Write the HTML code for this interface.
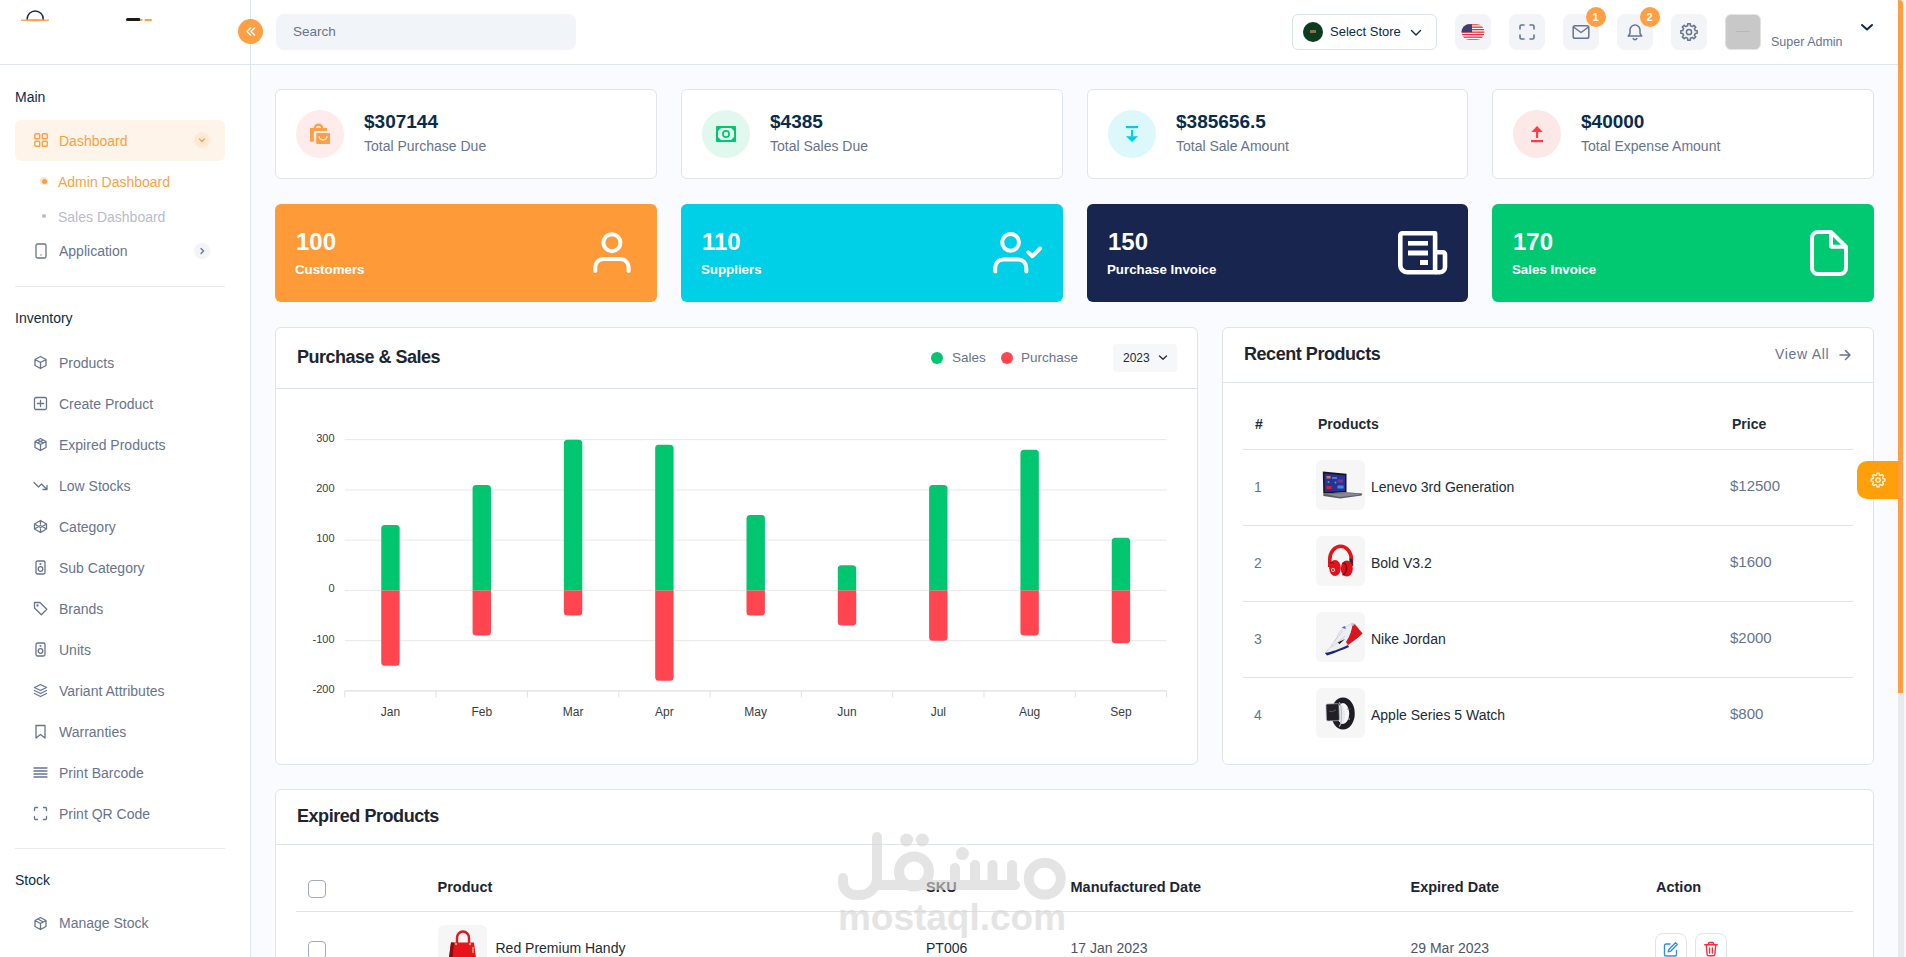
<!DOCTYPE html>
<html>
<head>
<meta charset="utf-8">
<style>
*{box-sizing:border-box;margin:0;padding:0}
html,body{width:1906px;height:957px;overflow:hidden}
body{font-family:"Liberation Sans",sans-serif;background:#fafbfe;color:#67748e;position:relative;font-size:14px}
.abs{position:absolute}
svg{display:block}
/* sidebar */
#sidebar{position:absolute;left:0;top:0;width:251px;height:957px;background:#fff;border-right:1px solid #dfe5ec}
#header{position:absolute;left:251px;top:0;width:1647px;height:65px;background:#fff;border-bottom:1px solid #dfe5ec}
.sb-title{position:absolute;left:15px;font-size:14px;color:#092c4c;line-height:16px}
.sb-item{position:absolute;left:15px;width:210px;height:41px}
.sb-item .ic{position:absolute;left:18px;top:13px;width:15px;height:15px}
.sb-item .tx{position:absolute;left:44px;top:12px;font-size:14px;line-height:16px;color:#646b72;white-space:nowrap}
.sbt{font-size:14px;line-height:16px;color:#092c4c;white-space:nowrap}
.stx{font-size:14px;line-height:16px;color:#67748e;white-space:nowrap}
.card{background:#fff;border:1px solid #dfe4ea;border-radius:6px}
.tx{white-space:nowrap}
.divider{position:absolute;left:15px;width:210px;height:1px;background:#e8ebef}
</style>
</head>
<body>
<div id="sidebar">
<svg class="abs" style="left:20px;top:10px" width="140" height="14" viewBox="0 0 140 14">
<path d="M7.2 10V9a8 8 0 0 1 16 0V10" fill="none" stroke="#1b2850" stroke-width="1.5"/>
<path d="M1 10.2Q15 8.6 29 10.2Q15 11.6 1 10.2z" fill="#fe9f43" stroke="#fe9f43" stroke-width="0.8"/>
<rect x="106" y="8" width="14.5" height="3" rx="1.5" fill="#1b1b1b"/>
<rect x="120" y="9" width="2.5" height="2" fill="#fe9f43"/>
<rect x="124.5" y="9" width="7.5" height="2" rx="1" fill="#fe9f43"/>
</svg>
<div class="abs" style="left:0;top:64px;width:250px;height:1px;background:#dfe5ec"></div>
<div class="abs sbt" style="left:15px;top:89px">Main</div>
<div class="abs" style="left:15px;top:120px;width:210px;height:41px;background:#fff4e9;border-radius:6px"></div>
<svg class="abs" style="left:34px;top:133px" width="14" height="14" viewBox="0 0 14 14"><g fill="none" stroke="#fe9f43" stroke-width="1.4"><rect x="0.8" y="0.8" width="4.9" height="4.9" rx="0.8"/><rect x="8.3" y="0.8" width="4.9" height="4.9" rx="0.8"/><rect x="0.8" y="8.3" width="4.9" height="4.9" rx="0.8"/><rect x="8.3" y="8.3" width="4.9" height="4.9" rx="0.8"/></g></svg>
<div class="abs stx" style="left:59px;top:133px;color:#fe9f43">Dashboard</div>
<div class="abs" style="left:194px;top:132px;width:16px;height:16px;border-radius:50%;background:#fde9d5"></div><svg class="abs" style="left:197px;top:135px" width="10" height="10" viewBox="0 0 10 10"><path d="M2.5 4l2.5 2.5l2.5-2.5" fill="none" stroke="#fe9f43" stroke-width="1.3" stroke-linecap="round"/></svg>
<div class="abs" style="left:40px;top:177px;width:8px;height:8px;border-radius:50%;background:#fde3c9"></div><div class="abs" style="left:41.5px;top:178.5px;width:5px;height:5px;border-radius:50%;background:#fe9f43"></div>
<div class="abs stx" style="left:58px;top:174px;color:#fe9f43">Admin Dashboard</div>
<div class="abs" style="left:42px;top:214px;width:4px;height:4px;border-radius:50%;background:#b8bfca"></div>
<div class="abs stx" style="left:58px;top:209px;color:#b8bcc9">Sales Dashboard</div>
<svg class="abs" style="left:34px;top:243px" width="14" height="16" viewBox="0 0 14 16"><rect x="2" y="1" width="10" height="14" rx="1.5" fill="none" stroke="#67748e" stroke-width="1.3"/><circle cx="7" cy="12" r="0.7" fill="#67748e"/></svg>
<div class="abs stx" style="left:59px;top:243px">Application</div>
<div class="abs" style="left:194px;top:243px;width:16px;height:16px;border-radius:50%;background:#f3f4f7"></div><svg class="abs" style="left:197px;top:246px" width="10" height="10" viewBox="0 0 10 10"><path d="M4 2.5l2.5 2.5l-2.5 2.5" fill="none" stroke="#67748e" stroke-width="1.3" stroke-linecap="round"/></svg>
<div class="divider" style="top:286px"></div>
<div class="abs sbt" style="left:15px;top:310px">Inventory</div>
<svg class="abs" style="left:33px;top:355px" width="15" height="15" viewBox="0 0 15 15"><g fill="none" stroke="#67748e" stroke-width="1.3" stroke-linecap="round" stroke-linejoin="round"><path d="M7.5 1.5l5.5 3v6l-5.5 3l-5.5-3v-6z M2 4.5l5.5 3l5.5-3 M7.5 7.5v6"/></g></svg><div class="abs stx" style="left:59px;top:355px">Products</div>
<svg class="abs" style="left:33px;top:396px" width="15" height="15" viewBox="0 0 15 15"><g fill="none" stroke="#67748e" stroke-width="1.3" stroke-linecap="round" stroke-linejoin="round"><rect x="1.5" y="1.5" width="12" height="12" rx="1.5"/><path d="M7.5 4.5v6M4.5 7.5h6"/></g></svg><div class="abs stx" style="left:59px;top:396px">Create Product</div>
<svg class="abs" style="left:33px;top:437px" width="15" height="15" viewBox="0 0 15 15"><g fill="none" stroke="#67748e" stroke-width="1.3" stroke-linecap="round" stroke-linejoin="round"><path d="M7.5 1.5l5.5 3v6l-5.5 3l-5.5-3v-6z M2 4.5l5.5 3l5.5-3 M7.5 7.5v6 M4.8 3l5.5 3 M10.2 3l-5.5 3"/></g></svg><div class="abs stx" style="left:59px;top:437px">Expired Products</div>
<svg class="abs" style="left:33px;top:478px" width="15" height="15" viewBox="0 0 15 15"><g fill="none" stroke="#67748e" stroke-width="1.3" stroke-linecap="round" stroke-linejoin="round"><path d="M1 4.5l4.5 4.5l3-3l5.5 5.5 M10 11.5h4v-4"/></g></svg><div class="abs stx" style="left:59px;top:478px">Low Stocks</div>
<svg class="abs" style="left:33px;top:519px" width="15" height="15" viewBox="0 0 15 15"><g fill="none" stroke="#67748e" stroke-width="1.3" stroke-linecap="round" stroke-linejoin="round"><path d="M7.5 1.5l6 3.5v5l-6 3.5l-6-3.5v-5z M1.5 5l6 3.5l6-3.5 M1.5 10l6-3.5l6 3.5 M7.5 1.5v3.5 M7.5 10v3.5"/></g></svg><div class="abs stx" style="left:59px;top:519px">Category</div>
<svg class="abs" style="left:33px;top:560px" width="15" height="15" viewBox="0 0 15 15"><g fill="none" stroke="#67748e" stroke-width="1.3" stroke-linecap="round" stroke-linejoin="round"><rect x="3" y="1" width="9" height="13" rx="1.5"/><circle cx="7.5" cy="9" r="2.3"/><circle cx="7.5" cy="4" r="0.4"/></g></svg><div class="abs stx" style="left:59px;top:560px">Sub Category</div>
<svg class="abs" style="left:33px;top:601px" width="15" height="15" viewBox="0 0 15 15"><g fill="none" stroke="#67748e" stroke-width="1.3" stroke-linecap="round" stroke-linejoin="round"><path d="M1.5 1.5h5.5l6.8 6.8l-5.5 5.5l-6.8-6.8z"/><circle cx="4.5" cy="4.5" r="0.5"/></g></svg><div class="abs stx" style="left:59px;top:601px">Brands</div>
<svg class="abs" style="left:33px;top:642px" width="15" height="15" viewBox="0 0 15 15"><g fill="none" stroke="#67748e" stroke-width="1.3" stroke-linecap="round" stroke-linejoin="round"><rect x="3" y="1" width="9" height="13" rx="1.5"/><circle cx="7.5" cy="9" r="2.3"/><circle cx="7.5" cy="4" r="0.4"/></g></svg><div class="abs stx" style="left:59px;top:642px">Units</div>
<svg class="abs" style="left:33px;top:683px" width="15" height="15" viewBox="0 0 15 15"><g fill="none" stroke="#67748e" stroke-width="1.3" stroke-linecap="round" stroke-linejoin="round"><path d="M7.5 1.5l6 3l-6 3l-6-3z M1.5 7.5l6 3l6-3 M1.5 10.5l6 3l6-3"/></g></svg><div class="abs stx" style="left:59px;top:683px">Variant Attributes</div>
<svg class="abs" style="left:33px;top:724px" width="15" height="15" viewBox="0 0 15 15"><g fill="none" stroke="#67748e" stroke-width="1.3" stroke-linecap="round" stroke-linejoin="round"><path d="M3 1.5h9v12.5l-4.5-3.5l-4.5 3.5z"/></g></svg><div class="abs stx" style="left:59px;top:724px">Warranties</div>
<svg class="abs" style="left:33px;top:765px" width="15" height="15" viewBox="0 0 15 15"><g fill="none" stroke="#67748e" stroke-width="1.3" stroke-linecap="round" stroke-linejoin="round"><path d="M1 3h13M1 6h13M1 9h13M1 12h13"/></g></svg><div class="abs stx" style="left:59px;top:765px">Print Barcode</div>
<svg class="abs" style="left:33px;top:806px" width="15" height="15" viewBox="0 0 15 15"><g fill="none" stroke="#67748e" stroke-width="1.3" stroke-linecap="round" stroke-linejoin="round"><path d="M1.5 4.5v-2a1 1 0 0 1 1-1h2 M10.5 1.5h2a1 1 0 0 1 1 1v2 M13.5 10.5v2a1 1 0 0 1-1 1h-2 M4.5 13.5h-2a1 1 0 0 1-1-1v-2"/></g></svg><div class="abs stx" style="left:59px;top:806px">Print QR Code</div>
<div class="divider" style="top:848px"></div>
<div class="abs sbt" style="left:15px;top:872px">Stock</div>
<svg class="abs" style="left:33px;top:916px" width="15" height="15" viewBox="0 0 15 15"><g fill="none" stroke="#67748e" stroke-width="1.3" stroke-linecap="round" stroke-linejoin="round"><path d="M7.5 1.5l5.5 3v6l-5.5 3l-5.5-3v-6z M2 4.5l5.5 3l5.5-3 M7.5 7.5v6 M4.8 3l5.5 3"/></g></svg><div class="abs stx" style="left:59px;top:915px">Manage Stock</div>
</div>
<div id="header">
</div>
<div class="abs" style="left:238px;top:19px;width:25px;height:25px;border-radius:50%;background:#fe9f43"></div>
<svg class="abs" style="left:243px;top:24px" width="15" height="15" viewBox="0 0 15 15"><path d="M7.5 4l-3.5 3.5l3.5 3.5 M11.5 4l-3.5 3.5l3.5 3.5" fill="none" stroke="#fff" stroke-width="1.5" stroke-linecap="round" stroke-linejoin="round"/></svg>
<div class="abs" style="left:276px;top:14px;width:300px;height:36px;border-radius:8px;background:#f1f4f8"></div><div class="abs" style="left:293px;top:24px;font-size:13.5px;line-height:16px;color:#67748e">Search</div>
<div class="abs" style="left:1292px;top:14px;width:145px;height:36px;border:1px solid #dbe0e6;border-radius:6px;background:#fff"></div>
<div class="abs" style="left:1303px;top:21.5px;width:20px;height:20px;border-radius:50%;background:#0d3b1e"></div>
<div class="abs" style="left:1310px;top:29.5px;width:6px;height:3px;background:#b98a5a;opacity:.7"></div>
<div class="abs" style="left:1330px;top:24px;font-size:13px;line-height:16px;color:#092c4c">Select Store</div>
<svg class="abs" style="left:1409px;top:28px" width="14" height="10" viewBox="0 0 14 10"><path d="M2.5 2.5l4.5 4.5l4.5-4.5" fill="none" stroke="#092c4c" stroke-width="1.4" stroke-linecap="round" stroke-linejoin="round"/></svg>
<div class="abs" style="left:1455px;top:14px;width:36px;height:36px;border-radius:8px;background:#f2f4f8"></div>
<div class="abs" style="left:1509px;top:14px;width:36px;height:36px;border-radius:8px;background:#f2f4f8"></div>
<div class="abs" style="left:1563px;top:14px;width:36px;height:36px;border-radius:8px;background:#f2f4f8"></div>
<div class="abs" style="left:1617px;top:14px;width:36px;height:36px;border-radius:8px;background:#f2f4f8"></div>
<div class="abs" style="left:1671px;top:14px;width:36px;height:36px;border-radius:8px;background:#f2f4f8"></div>
<svg class="abs" style="left:1461px;top:24px" width="24" height="16" viewBox="0 0 24 16"><defs><clipPath id="fc"><rect x="0.5" y="0.3" width="23" height="15.4" rx="7.7"/></clipPath></defs><g clip-path="url(#fc)"><rect width="24" height="16" fill="#fff"/>
<rect y="0" width="24" height="1.3" fill="#e0313a"/><rect y="2.5" width="24" height="1.3" fill="#e0313a"/><rect y="5" width="24" height="1.3" fill="#e0313a"/><rect y="7.5" width="24" height="1.3" fill="#e0313a"/><rect y="10" width="24" height="1.3" fill="#e0313a"/><rect y="12.5" width="24" height="1.3" fill="#e0313a"/><rect y="15" width="24" height="1.3" fill="#e0313a"/>
<rect x="0" y="0" width="11" height="8.2" fill="#3c3f78"/></g></svg>
<svg class="abs" style="left:1519px;top:24px" width="16" height="16" viewBox="0 0 16 16"><path d="M1 5V2.5A1.5 1.5 0 0 1 2.5 1H5 M11 1h2.5A1.5 1.5 0 0 1 15 2.5V5 M15 11v2.5a1.5 1.5 0 0 1-1.5 1.5H11 M5 15H2.5A1.5 1.5 0 0 1 1 13.5V11" fill="none" stroke="#67748e" stroke-width="1.6" stroke-linecap="round"/></svg>
<svg class="abs" style="left:1572px;top:24px" width="18" height="16" viewBox="0 0 18 16"><rect x="1.2" y="1.7" width="15.6" height="12.6" rx="1.8" fill="none" stroke="#67748e" stroke-width="1.5"/><path d="M1.5 3l7.5 5.5l7.5-5.5" fill="none" stroke="#67748e" stroke-width="1.5" stroke-linejoin="round"/></svg>
<svg class="abs" style="left:1626px;top:23px" width="18" height="18" viewBox="0 0 18 18"><path d="M9 2a5 5 0 0 0-5 5v3.5l-1.8 2.6h13.6L14 10.5V7a5 5 0 0 0-5-5z" fill="none" stroke="#67748e" stroke-width="1.5" stroke-linejoin="round"/><path d="M7.2 15.5a1.9 1.9 0 0 0 3.6 0" fill="none" stroke="#67748e" stroke-width="1.5" stroke-linecap="round"/></svg>
<svg class="abs" style="left:1680px;top:23px" width="18" height="18" viewBox="0 0 18 18"><path d="M7.60 2.75 L7.68 0.81 L10.32 0.81 L10.40 2.75 L12.43 3.60 L13.86 2.27 L15.73 4.14 L14.40 5.57 L15.25 7.60 L17.19 7.68 L17.19 10.32 L15.25 10.40 L14.40 12.43 L15.73 13.86 L13.86 15.73 L12.43 14.40 L10.40 15.25 L10.32 17.19 L7.68 17.19 L7.60 15.25 L5.57 14.40 L4.14 15.73 L2.27 13.86 L3.60 12.43 L2.75 10.40 L0.81 10.32 L0.81 7.68 L2.75 7.60 L3.60 5.57 L2.27 4.14 L4.14 2.27 L5.57 3.60Z" fill="none" stroke="#67748e" stroke-width="1.5" stroke-linejoin="round"/><circle cx="9" cy="9" r="2.6" fill="none" stroke="#67748e" stroke-width="1.5"/></svg>
<div class="abs" style="left:1585.5px;top:7px;width:20px;height:20px;border-radius:50%;background:#fe9f43;color:#fff;font-size:11px;font-weight:700;line-height:20px;text-align:center">1</div>
<div class="abs" style="left:1639.5px;top:7px;width:20px;height:20px;border-radius:50%;background:#fe9f43;color:#fff;font-size:11px;font-weight:700;line-height:20px;text-align:center">2</div>
<div class="abs" style="left:1725px;top:14px;width:36px;height:36px;border-radius:6px;background:#c8c8c8;border:1px solid #e3e3e3"></div><div class="abs" style="left:1736px;top:31px;width:13px;height:1px;background:#a8acb8;opacity:.6"></div>
<div class="abs" style="left:1771px;top:34px;font-size:12.5px;line-height:16px;color:#67748e;white-space:nowrap">Super Admin</div>
<svg class="abs" style="left:1859px;top:22px" width="16" height="12" viewBox="0 0 16 12"><path d="M3 3l5 4.5l5-4.5" fill="none" stroke="#092c4c" stroke-width="2" stroke-linecap="round" stroke-linejoin="round"/></svg>
<div id="main">
<!--M1-->
<div class="abs card" style="left:275px;top:89px;width:382px;height:90px"></div>
<div class="abs" style="left:296px;top:110px;width:48px;height:48px;border-radius:50%;background:#fdeceb"></div>
<svg class="abs" style="left:296px;top:110px" width="48" height="48" viewBox="0 0 48 48"><path d="M18.7 18.5a3.8 3.8 0 0 1 7.6 0" fill="none" stroke="#fe9f43" stroke-width="2.2"/><path d="M14 18h17v3h-13.2v10.7h-3.8z" fill="#fe9f43"/><rect x="20.2" y="23" width="13.8" height="11" rx="1" fill="#fe9f43"/><path d="M23 26a4 4 0 0 0 8 0" fill="none" stroke="#fdeceb" stroke-width="1.3"/></svg>
<div class="abs tx" style="left:364px;top:109.8px;font-size:19px;line-height:23px;color:#092c4c;font-weight:700;">$307144</div>
<div class="abs tx" style="left:364px;top:138.1px;font-size:14px;line-height:17px;color:#67748e;font-weight:400;">Total Purchase Due</div>
<div class="abs card" style="left:681px;top:89px;width:382px;height:90px"></div>
<div class="abs" style="left:702px;top:110px;width:48px;height:48px;border-radius:50%;background:#e0f8ee"></div>
<svg class="abs" style="left:702px;top:110px" width="48" height="48" viewBox="0 0 48 48"><rect x="14" y="16" width="20" height="16" rx="0.8" fill="#02c76f"/><path d="M19 18h10l3 3v6l-3 3h-10l-3-3v-6z" fill="#e0f8ee"/><circle cx="24" cy="24" r="3.1" fill="none" stroke="#02c76f" stroke-width="1.7"/></svg>
<div class="abs tx" style="left:770px;top:109.8px;font-size:19px;line-height:23px;color:#092c4c;font-weight:700;">$4385</div>
<div class="abs tx" style="left:770px;top:138.1px;font-size:14px;line-height:17px;color:#67748e;font-weight:400;">Total Sales Due</div>
<div class="abs card" style="left:1087px;top:89px;width:381px;height:90px"></div>
<div class="abs" style="left:1108px;top:110px;width:48px;height:48px;border-radius:50%;background:#dcf8fb"></div>
<svg class="abs" style="left:1108px;top:110px" width="48" height="48" viewBox="0 0 48 48"><rect x="17.9" y="16" width="12.2" height="2.2" fill="#00cfe8"/><rect x="23" y="20" width="2" height="6.5" fill="#00cfe8"/><path d="M17.9 26.3h12.2l-6.1 5.8z" fill="#00cfe8"/></svg>
<div class="abs tx" style="left:1176px;top:109.8px;font-size:19px;line-height:23px;color:#092c4c;font-weight:700;">$385656.5</div>
<div class="abs tx" style="left:1176px;top:138.1px;font-size:14px;line-height:17px;color:#67748e;font-weight:400;">Total Sale Amount</div>
<div class="abs card" style="left:1492px;top:89px;width:382px;height:90px"></div>
<div class="abs" style="left:1513px;top:110px;width:48px;height:48px;border-radius:50%;background:#fde8e8"></div>
<svg class="abs" style="left:1513px;top:110px" width="48" height="48" viewBox="0 0 48 48"><path d="M18.3 22h11.5l-5.75-6z" fill="#ff3b45"/><rect x="23" y="21.5" width="2.2" height="6.5" fill="#ff3b45"/><rect x="18" y="30" width="12" height="2.2" fill="#ff3b45"/></svg>
<div class="abs tx" style="left:1581px;top:109.8px;font-size:19px;line-height:23px;color:#092c4c;font-weight:700;">$40000</div>
<div class="abs tx" style="left:1581px;top:138.1px;font-size:14px;line-height:17px;color:#67748e;font-weight:400;">Total Expense Amount</div>
<div class="abs" style="left:275px;top:204px;width:382px;height:98px;border-radius:6px;background:#fe9b38"></div>
<div class="abs tx" style="left:296px;top:227.2px;font-size:24px;line-height:29px;color:#fff;font-weight:700;">100</div>
<div class="abs tx" style="left:295px;top:261.5px;font-size:13.3px;line-height:16px;color:#fff;font-weight:700;">Customers</div>
<svg class="abs" style="left:591px;top:229px" width="44" height="48" viewBox="0 0 44 48"><circle cx="20.9" cy="13.7" r="8.5" fill="none" stroke="#fff" stroke-width="4"/><path d="M4.3 42v-4a8 8 0 0 1 8-8h17.3a8 8 0 0 1 8 8v4" fill="none" stroke="#fff" stroke-width="4" stroke-linecap="round"/></svg>
<div class="abs" style="left:681px;top:204px;width:382px;height:98px;border-radius:6px;background:#00cfe8"></div>
<div class="abs tx" style="left:702px;top:227.2px;font-size:24px;line-height:29px;color:#fff;font-weight:700;">110</div>
<div class="abs tx" style="left:701px;top:261.5px;font-size:13.3px;line-height:16px;color:#fff;font-weight:700;">Suppliers</div>
<svg class="abs" style="left:991px;top:229px" width="54" height="48" viewBox="0 0 54 48"><circle cx="19.6" cy="13.3" r="8.4" fill="none" stroke="#fff" stroke-width="4"/><path d="M4.2 42.4v-4a8 8 0 0 1 8-8h15.1a8 8 0 0 1 8 8v4" fill="none" stroke="#fff" stroke-width="4" stroke-linecap="round"/><path d="M37.3 23.3l4.2 3.9l7.6-7.8" fill="none" stroke="#fff" stroke-width="4" stroke-linecap="round" stroke-linejoin="round"/></svg>
<div class="abs" style="left:1087px;top:204px;width:381px;height:98px;border-radius:6px;background:#17254f"></div>
<div class="abs tx" style="left:1108px;top:227.2px;font-size:24px;line-height:29px;color:#fff;font-weight:700;">150</div>
<div class="abs tx" style="left:1107px;top:261.5px;font-size:13.3px;line-height:16px;color:#fff;font-weight:700;">Purchase Invoice</div>
<svg class="abs" style="left:1390px;top:225px" width="64" height="56" viewBox="0 0 64 56"><path d="M12.3 8.3H45.1V47.2H17a6.7 6.7 0 0 1-6.7-6.7V10.3a2 2 0 0 1 2-2z" fill="none" stroke="#fff" stroke-width="4.6" stroke-linejoin="round"/><path d="M45.1 27.3H53a2 2 0 0 1 2 2V42a5.2 5.2 0 0 1-5.2 5.2H45" fill="none" stroke="#fff" stroke-width="4.6" stroke-linejoin="round"/><rect x="18" y="16" width="20" height="4.6" fill="#fff"/><rect x="18" y="25.5" width="20" height="5" fill="#fff"/><rect x="30" y="35" width="8" height="5" fill="#fff"/></svg>
<div class="abs" style="left:1492px;top:204px;width:382px;height:98px;border-radius:6px;background:#00c972"></div>
<div class="abs tx" style="left:1513px;top:227.2px;font-size:24px;line-height:29px;color:#fff;font-weight:700;">170</div>
<div class="abs tx" style="left:1512px;top:261.5px;font-size:13.3px;line-height:16px;color:#fff;font-weight:700;">Sales Invoice</div>
<svg class="abs" style="left:1806px;top:228px" width="46" height="52" viewBox="0 0 46 52"><path d="M25 4H12a6 6 0 0 0-6 6V40a6 6 0 0 0 6 6H34a6 6 0 0 0 6-6V18.7Z M25 4V17.7a1 1 0 0 0 1 1H40" fill="none" stroke="#fff" stroke-width="4" stroke-linejoin="round"/></svg>
<!--/M1-->
<!--EX-->
<div class="abs card" style="left:275px;top:789px;width:1599px;height:220px"></div>
<div class="abs" style="left:276px;top:844px;width:1597px;height:1px;background:#dfe4ea"></div>
<div class="abs tx" style="left:297px;top:805.1px;font-size:18px;line-height:22px;color:#1d2530;font-weight:700;letter-spacing:-0.45px">Expired Products</div>
<div class="abs" style="left:308px;top:880px;width:18px;height:18px;border:1px solid #a3abb8;border-radius:4px;background:#fff"></div>
<div class="abs tx" style="left:437.5px;top:878.5px;font-size:14.5px;line-height:17px;color:#1d2530;font-weight:700;">Product</div>
<div class="abs tx" style="left:926px;top:878.5px;font-size:14.5px;line-height:17px;color:#1d2530;font-weight:700;">SKU</div>
<div class="abs tx" style="left:1070.5px;top:878.5px;font-size:14.5px;line-height:17px;color:#1d2530;font-weight:700;">Manufactured Date</div>
<div class="abs tx" style="left:1410.5px;top:878.5px;font-size:14.5px;line-height:17px;color:#1d2530;font-weight:700;">Expired Date</div>
<div class="abs tx" style="left:1656px;top:878.5px;font-size:14.5px;line-height:17px;color:#1d2530;font-weight:700;">Action</div>
<div class="abs" style="left:296px;top:911px;width:1557px;height:1px;background:#dfe4ea"></div>
<div class="abs" style="left:308px;top:941px;width:18px;height:18px;border:1px solid #a3abb8;border-radius:4px;background:#fff"></div>
<div class="abs" style="left:438px;top:925px;width:49px;height:50px;border-radius:6px;background:#f6f6f7"></div>
<svg class="abs" style="left:438px;top:925px" width="49" height="40" viewBox="0 0 49 40"><path d="M19 18v-5a6 6.5 0 0 1 12 0v5" fill="none" stroke="#e01820" stroke-width="2.4"/><path d="M13 17.5h23l3 22.5h-29z" fill="#e8141c"/><path d="M13 17.5h3l-2 22.5h-4z" fill="#8a0c10"/><circle cx="18" cy="19" r="1.2" fill="#c9a070"/><circle cx="32" cy="19" r="1.2" fill="#c9a070"/><path d="M35 22v6" stroke="#c9a070" stroke-width="1.6"/></svg>
<div class="abs tx" style="left:495.5px;top:939.5px;font-size:14px;line-height:17px;color:#212b36;font-weight:400;">Red Premium Handy</div>
<div class="abs tx" style="left:926px;top:939.5px;font-size:14px;line-height:17px;color:#212b36;font-weight:400;">PT006</div>
<div class="abs tx" style="left:1070.5px;top:939.5px;font-size:14px;line-height:17px;color:#4a5566;font-weight:400;">17 Jan 2023</div>
<div class="abs tx" style="left:1410.5px;top:939.5px;font-size:14px;line-height:17px;color:#4a5566;font-weight:400;">29 Mar 2023</div>
<div class="abs" style="left:1655px;top:933px;width:32px;height:32px;border:1px solid #e0e4e9;border-radius:8px;background:#fff"></div>
<div class="abs" style="left:1695px;top:933px;width:32px;height:32px;border:1px solid #e0e4e9;border-radius:8px;background:#fff"></div>
<svg class="abs" style="left:1663px;top:941px" width="16" height="16" viewBox="0 0 16 16"><path d="M7 3H3a1.5 1.5 0 0 0-1.5 1.5v9A1.5 1.5 0 0 0 3 15h9a1.5 1.5 0 0 0 1.5-1.5V9.5" fill="none" stroke="#3a8bdc" stroke-width="1.4" stroke-linecap="round"/><path d="M12.5 1.8l1.8 1.8l-6.5 6.5l-2.6 0.8l0.8-2.6z" fill="none" stroke="#3a8bdc" stroke-width="1.4" stroke-linejoin="round"/></svg>
<svg class="abs" style="left:1703px;top:941px" width="16" height="16" viewBox="0 0 16 16"><path d="M1.8 3.8h12.4 M5.5 3.5v-1a1 1 0 0 1 1-1h3a1 1 0 0 1 1 1v1 M3.3 4l0.8 9.5a1.5 1.5 0 0 0 1.5 1.3h4.8a1.5 1.5 0 0 0 1.5-1.3l0.8-9.5 M6.6 7v5 M9.4 7v5" fill="none" stroke="#ff2a35" stroke-width="1.4" stroke-linecap="round" stroke-linejoin="round"/></svg>
<svg class="abs" style="left:830px;top:826px;opacity:0.62" width="245" height="116" viewBox="830 826 245 116">
<g fill="none" stroke="#d5d5d5" stroke-width="10" stroke-linecap="round" stroke-linejoin="round">
<path d="M877 837V878a17 17 0 0 1-17 17h-4a13 13 0 0 1-13-13v-4"/>
<circle cx="914" cy="871.5" r="15"/>
<path d="M877 885H1015"/>
<path d="M955 868V880 M975 865V880 M992.5 865V880 M1012 865V880"/>
<circle cx="1044.8" cy="878.7" r="16"/>
</g>
<g fill="#d5d5d5"><circle cx="906.6" cy="840" r="6.5"/><circle cx="922.4" cy="840" r="6.5"/><circle cx="962.4" cy="853.6" r="6.5"/></g>
<text x="952" y="930" text-anchor="middle" font-family="Liberation Sans" font-weight="700" font-size="37" fill="#d5d5d5">mostaql.com</text>
</svg>
<!--/EX-->
<!--RP-->
<div class="abs card" style="left:1222px;top:327px;width:652px;height:438px"></div>
<div class="abs" style="left:1223px;top:382px;width:650px;height:1px;background:#dfe4ea"></div>
<div class="abs tx" style="left:1244px;top:342.6px;font-size:18px;line-height:22px;color:#1d2530;font-weight:700;letter-spacing:-0.45px">Recent Products</div>
<div class="abs tx" style="left:1775px;top:345.5px;font-size:14px;line-height:17px;color:#67748e;font-weight:400;letter-spacing:0.7px">View All</div>
<svg class="abs" style="left:1838px;top:348px" width="14" height="14" viewBox="0 0 14 14"><path d="M2 7h10 M7.5 2.5l4.5 4.5l-4.5 4.5" fill="none" stroke="#67748e" stroke-width="1.5" stroke-linecap="round" stroke-linejoin="round"/></svg>
<div class="abs tx" style="left:1255px;top:416.3px;font-size:14px;line-height:17px;color:#212b36;font-weight:700;">#</div>
<div class="abs tx" style="left:1318px;top:416.3px;font-size:14px;line-height:17px;color:#212b36;font-weight:700;">Products</div>
<div class="abs tx" style="left:1732px;top:416.4px;font-size:14px;line-height:17px;color:#212b36;font-weight:700;">Price</div>
<div class="abs" style="left:1243px;top:449px;width:610px;height:1px;background:#dfe4ea"></div>
<div class="abs tx" style="left:1254px;top:478.5px;font-size:14px;line-height:17px;color:#67748e;font-weight:400;">1</div>
<div class="abs" style="left:1316px;top:460px;width:49px;height:50px;border-radius:6px;background:#f6f6f7"></div>
<svg class="abs" style="left:1316px;top:460px" width="49" height="50" viewBox="0 0 49 50"><path d="M6.8 11.5l23.7 2.2v18.6l-23.2 1.2z" fill="#17171c"/><path d="M8.4 13.4l20.6 2v15.6l-20.1 1z" fill="#2a2f9c"/><rect x="10.5" y="16" width="4" height="2.5" fill="#d87a3a"/><rect x="16" y="17" width="5" height="2" fill="#4a7ad0"/><circle cx="12.5" cy="22" r="1" fill="#2ec85a"/><circle cx="19.5" cy="22.5" r="1" fill="#2ec85a"/><rect x="21.5" y="19.5" width="5.5" height="3" fill="#6a3a90"/><rect x="10.5" y="26" width="5" height="3" fill="#d82020"/><rect x="21.5" y="25.5" width="6" height="3" fill="#3a90d8"/><path d="M7.3 33.5l23.2-1.3l15.8 1.2l-0.6 2.2l-21.5 2.8l-16.8-2.4z" fill="#5a5d66"/><path d="M9.5 34l21-1.1l13 0.8l-0.5 1.2l-19.5 2.2z" fill="#878a93"/></svg>
<div class="abs tx" style="left:1371px;top:478.5px;font-size:14px;line-height:17px;color:#212b36;font-weight:400;">Lenevo 3rd Generation</div>
<div class="abs tx" style="left:1730px;top:477.2px;font-size:15px;line-height:18px;color:#67748e;font-weight:400;">$12500</div>
<div class="abs" style="left:1243px;top:525px;width:610px;height:1px;background:#dfe4ea"></div>
<div class="abs tx" style="left:1254px;top:554.5px;font-size:14px;line-height:17px;color:#67748e;font-weight:400;">2</div>
<div class="abs" style="left:1316px;top:536px;width:49px;height:50px;border-radius:6px;background:#f6f6f7"></div>
<svg class="abs" style="left:1316px;top:536px" width="49" height="50" viewBox="0 0 49 50"><path d="M13.8 31V23.5a10.8 13.2 0 0 1 21.6 0V30" fill="none" stroke="#e5121b" stroke-width="3.6"/><path d="M33.5 22l3.2 1.2v6.5l-3.2-1z" fill="#2a2a30"/><ellipse cx="19" cy="32" rx="5.8" ry="8" fill="#e3111a"/><ellipse cx="30.8" cy="32.5" rx="6" ry="8" fill="#de1019"/><path d="M26.5 27.5c2.5-1 4.5 1.5 4 5.5c-0.5 3-2.5 5.5-4 6" fill="none" stroke="#7a0a10" stroke-width="1.6"/><path d="M14 27c1.5-1 3-0.5 4 1" fill="none" stroke="#7a0a10" stroke-width="1"/><circle cx="17" cy="34" r="1.6" fill="none" stroke="#fff" stroke-width="0.8"/></svg>
<div class="abs tx" style="left:1371px;top:554.5px;font-size:14px;line-height:17px;color:#212b36;font-weight:400;">Bold V3.2</div>
<div class="abs tx" style="left:1730px;top:553.2px;font-size:15px;line-height:18px;color:#67748e;font-weight:400;">$1600</div>
<div class="abs" style="left:1243px;top:601px;width:610px;height:1px;background:#dfe4ea"></div>
<div class="abs tx" style="left:1254px;top:630.5px;font-size:14px;line-height:17px;color:#67748e;font-weight:400;">3</div>
<div class="abs" style="left:1316px;top:612px;width:49px;height:50px;border-radius:6px;background:#f6f6f7"></div>
<svg class="abs" style="left:1316px;top:612px" width="49" height="50" viewBox="0 0 49 50"><path d="M9 41C14 36 20 28 24 19L28 16L36 11L39 12L46 21C42 26 30 35 12 43Z" fill="#eceef2" stroke="#c3c8d0" stroke-width="0.6"/><path d="M36.5 12L39 12.5L46.5 21.5C44 24 38 29 32 33L30 30C34 24 36 18 36.5 12Z" fill="#d8141e"/><path d="M9 41C15 40 24 37 32 33L33 35C26 38 16 42 11 43.5Z" fill="#1b2480"/><path d="M21.5 30.5L29 27L23.5 32Z" fill="#1a1a1a"/><path d="M25.5 15.5L29 14L29.8 17Z" fill="#2a70d8"/><path d="M18 30C21 26 24 22 27 19M15 35C20 32 25 28 29 24" fill="none" stroke="#c8ccd4" stroke-width="0.8"/><path d="M35.5 11L38 11.5L37.5 14L35 13.5Z" fill="#c9ced6"/></svg>
<div class="abs tx" style="left:1371px;top:630.5px;font-size:14px;line-height:17px;color:#212b36;font-weight:400;">Nike Jordan</div>
<div class="abs tx" style="left:1730px;top:629.2px;font-size:15px;line-height:18px;color:#67748e;font-weight:400;">$2000</div>
<div class="abs" style="left:1243px;top:677px;width:610px;height:1px;background:#dfe4ea"></div>
<div class="abs tx" style="left:1254px;top:706.5px;font-size:14px;line-height:17px;color:#67748e;font-weight:400;">4</div>
<div class="abs" style="left:1316px;top:688px;width:49px;height:50px;border-radius:6px;background:#f6f6f7"></div>
<svg class="abs" style="left:1316px;top:688px" width="49" height="50" viewBox="0 0 49 50"><ellipse cx="27" cy="25.5" rx="9" ry="13.2" fill="none" stroke="#1f1d24" stroke-width="5.5"/><ellipse cx="25.8" cy="26.5" rx="3.2" ry="9.5" fill="#e9ebf0"/><path d="M23 14.5c2 1 2.5 4 2.5 12s-0.5 11-2.5 12" fill="none" stroke="#b9bdc6" stroke-width="1.2"/><rect x="10.2" y="15.8" width="13" height="17" rx="1.5" fill="#221f27" stroke="#b5b9c2" stroke-width="0.7" transform="rotate(-2 16.7 24.3)"/><path d="M13 23l3 0.8l4-2" fill="none" stroke="#8d8d98" stroke-width="0.5"/><circle cx="33" cy="31" r="1" fill="#8a8f9a"/><path d="M31 21h4" stroke="#555" stroke-width="0.6"/></svg>
<div class="abs tx" style="left:1371px;top:706.5px;font-size:14px;line-height:17px;color:#212b36;font-weight:400;">Apple Series 5 Watch</div>
<div class="abs tx" style="left:1730px;top:705.2px;font-size:15px;line-height:18px;color:#67748e;font-weight:400;">$800</div>
<div class="abs" style="left:1857px;top:461px;width:49px;height:38px;border-radius:10px 0 0 10px;background:#ff9f0a"></div>
<svg class="abs" style="left:1869px;top:471px" width="18" height="18" viewBox="0 0 18 18"><path d="M14.15 7.74 L15.92 7.95 L15.92 10.05 L14.15 10.26 L13.53 11.75 L14.63 13.15 L13.15 14.63 L11.75 13.53 L10.26 14.15 L10.05 15.92 L7.95 15.92 L7.74 14.15 L6.25 13.53 L4.85 14.63 L3.37 13.15 L4.47 11.75 L3.85 10.26 L2.08 10.05 L2.08 7.95 L3.85 7.74 L4.47 6.25 L3.37 4.85 L4.85 3.37 L6.25 4.47 L7.74 3.85 L7.95 2.08 L10.05 2.08 L10.26 3.85 L11.75 4.47 L13.15 3.37 L14.63 4.85 L13.53 6.25Z" fill="none" stroke="#fff" stroke-width="1.2" stroke-linejoin="round"/><circle cx="9" cy="9" r="2.2" fill="none" stroke="#fff" stroke-width="1.2"/></svg>
<!--/RP-->
<!--CH-->
<div class="abs card" style="left:275px;top:327px;width:923px;height:438px"></div>
<div class="abs" style="left:276px;top:388px;width:921px;height:1px;background:#dfe4ea"></div>
<div class="abs tx" style="left:297px;top:346.0px;font-size:18px;line-height:22px;color:#1d2530;font-weight:700;letter-spacing:-0.5px">Purchase &amp; Sales</div>
<div class="abs" style="left:931px;top:352px;width:12px;height:12px;border-radius:50%;background:#00c76f"></div>
<div class="abs tx" style="left:952px;top:350.2px;font-size:13.5px;line-height:16px;color:#67748e;font-weight:400;">Sales</div>
<div class="abs" style="left:1001px;top:352px;width:12px;height:12px;border-radius:50%;background:#ff4550"></div>
<div class="abs tx" style="left:1021px;top:350.2px;font-size:13.5px;line-height:16px;color:#67748e;font-weight:400;">Purchase</div>
<div class="abs" style="left:1113px;top:344px;width:64px;height:28px;border-radius:4px;background:#f6f7f9"></div>
<div class="abs tx" style="left:1123px;top:350.7px;font-size:12px;line-height:14px;color:#212b36;font-weight:400;">2023</div>
<svg class="abs" style="left:1157px;top:353px" width="12" height="10" viewBox="0 0 12 10"><path d="M2.5 3l3.5 3.3l3.5-3.3" fill="none" stroke="#212b36" stroke-width="1.3" stroke-linecap="round" stroke-linejoin="round"/></svg>
<svg class="abs" style="left:300px;top:420px" width="890" height="310" viewBox="0 0 890 310"><line x1="44.80000000000001" y1="19.65" x2="866.5999999999999" y2="19.65" stroke="#e8e8e8" stroke-width="1"/><line x1="44.80000000000001" y1="69.90" x2="866.5999999999999" y2="69.90" stroke="#e8e8e8" stroke-width="1"/><line x1="44.80000000000001" y1="120.15" x2="866.5999999999999" y2="120.15" stroke="#e8e8e8" stroke-width="1"/><line x1="44.80000000000001" y1="170.40" x2="866.5999999999999" y2="170.40" stroke="#e8e8e8" stroke-width="1"/><line x1="44.80000000000001" y1="220.65" x2="866.5999999999999" y2="220.65" stroke="#e8e8e8" stroke-width="1"/><line x1="44.80000000000001" y1="270.90" x2="866.5999999999999" y2="270.90" stroke="#e0e0e0" stroke-width="1.3"/><line x1="44.80" y1="270.90" x2="44.80" y2="277.40" stroke="#e0e0e0" stroke-width="1"/><line x1="136.11" y1="270.90" x2="136.11" y2="277.40" stroke="#e0e0e0" stroke-width="1"/><line x1="227.42" y1="270.90" x2="227.42" y2="277.40" stroke="#e0e0e0" stroke-width="1"/><line x1="318.73" y1="270.90" x2="318.73" y2="277.40" stroke="#e0e0e0" stroke-width="1"/><line x1="410.04" y1="270.90" x2="410.04" y2="277.40" stroke="#e0e0e0" stroke-width="1"/><line x1="501.36" y1="270.90" x2="501.36" y2="277.40" stroke="#e0e0e0" stroke-width="1"/><line x1="592.67" y1="270.90" x2="592.67" y2="277.40" stroke="#e0e0e0" stroke-width="1"/><line x1="683.98" y1="270.90" x2="683.98" y2="277.40" stroke="#e0e0e0" stroke-width="1"/><line x1="775.29" y1="270.90" x2="775.29" y2="277.40" stroke="#e0e0e0" stroke-width="1"/><line x1="866.60" y1="270.90" x2="866.60" y2="277.40" stroke="#e0e0e0" stroke-width="1"/><path d="M81.26 170.40V108.57a3.5 3.5 0 0 1 3.5 -3.5h11.40a3.5 3.5 0 0 1 3.5 3.5V170.40z" fill="#00c76f"/><path d="M81.26 170.40V242.27a3.5 3.5 0 0 0 3.5 3.5h11.40a3.5 3.5 0 0 0 3.5 -3.5V170.40z" fill="#ff4550"/><text x="90.46" y="295.79999999999995" font-size="12" text-anchor="middle" fill="#373d3f" font-family="Liberation Sans">Jan</text><path d="M172.57 170.40V68.38a3.5 3.5 0 0 1 3.5 -3.5h11.40a3.5 3.5 0 0 1 3.5 3.5V170.40z" fill="#00c76f"/><path d="M172.57 170.40V212.12a3.5 3.5 0 0 0 3.5 3.5h11.40a3.5 3.5 0 0 0 3.5 -3.5V170.40z" fill="#ff4550"/><text x="181.77" y="295.79999999999995" font-size="12" text-anchor="middle" fill="#373d3f" font-family="Liberation Sans">Feb</text><path d="M263.88 170.40V23.15a3.5 3.5 0 0 1 3.5 -3.5h11.40a3.5 3.5 0 0 1 3.5 3.5V170.40z" fill="#00c76f"/><path d="M263.88 170.40V192.02a3.5 3.5 0 0 0 3.5 3.5h11.40a3.5 3.5 0 0 0 3.5 -3.5V170.40z" fill="#ff4550"/><text x="273.08" y="295.79999999999995" font-size="12" text-anchor="middle" fill="#373d3f" font-family="Liberation Sans">Mar</text><path d="M355.19 170.40V28.17a3.5 3.5 0 0 1 3.5 -3.5h11.40a3.5 3.5 0 0 1 3.5 3.5V170.40z" fill="#00c76f"/><path d="M355.19 170.40V257.35a3.5 3.5 0 0 0 3.5 3.5h11.40a3.5 3.5 0 0 0 3.5 -3.5V170.40z" fill="#ff4550"/><text x="364.39" y="295.79999999999995" font-size="12" text-anchor="middle" fill="#373d3f" font-family="Liberation Sans">Apr</text><path d="M446.50 170.40V98.52a3.5 3.5 0 0 1 3.5 -3.5h11.40a3.5 3.5 0 0 1 3.5 3.5V170.40z" fill="#00c76f"/><path d="M446.50 170.40V192.02a3.5 3.5 0 0 0 3.5 3.5h11.40a3.5 3.5 0 0 0 3.5 -3.5V170.40z" fill="#ff4550"/><text x="455.70" y="295.79999999999995" font-size="12" text-anchor="middle" fill="#373d3f" font-family="Liberation Sans">May</text><path d="M537.81 170.40V148.77a3.5 3.5 0 0 1 3.5 -3.5h11.40a3.5 3.5 0 0 1 3.5 3.5V170.40z" fill="#00c76f"/><path d="M537.81 170.40V202.07a3.5 3.5 0 0 0 3.5 3.5h11.40a3.5 3.5 0 0 0 3.5 -3.5V170.40z" fill="#ff4550"/><text x="547.01" y="295.79999999999995" font-size="12" text-anchor="middle" fill="#373d3f" font-family="Liberation Sans">Jun</text><path d="M629.12 170.40V68.38a3.5 3.5 0 0 1 3.5 -3.5h11.40a3.5 3.5 0 0 1 3.5 3.5V170.40z" fill="#00c76f"/><path d="M629.12 170.40V217.15a3.5 3.5 0 0 0 3.5 3.5h11.40a3.5 3.5 0 0 0 3.5 -3.5V170.40z" fill="#ff4550"/><text x="638.32" y="295.79999999999995" font-size="12" text-anchor="middle" fill="#373d3f" font-family="Liberation Sans">Jul</text><path d="M720.43 170.40V33.20a3.5 3.5 0 0 1 3.5 -3.5h11.40a3.5 3.5 0 0 1 3.5 3.5V170.40z" fill="#00c76f"/><path d="M720.43 170.40V212.12a3.5 3.5 0 0 0 3.5 3.5h11.40a3.5 3.5 0 0 0 3.5 -3.5V170.40z" fill="#ff4550"/><text x="729.63" y="295.79999999999995" font-size="12" text-anchor="middle" fill="#373d3f" font-family="Liberation Sans">Aug</text><path d="M811.74 170.40V121.14a3.5 3.5 0 0 1 3.5 -3.5h11.40a3.5 3.5 0 0 1 3.5 3.5V170.40z" fill="#00c76f"/><path d="M811.74 170.40V219.66a3.5 3.5 0 0 0 3.5 3.5h11.40a3.5 3.5 0 0 0 3.5 -3.5V170.40z" fill="#ff4550"/><text x="820.94" y="295.79999999999995" font-size="12" text-anchor="middle" fill="#373d3f" font-family="Liberation Sans">Sep</text><text x="34.60000000000002" y="21.55" font-size="11" text-anchor="end" fill="#373d3f" font-family="Liberation Sans">300</text><text x="34.60000000000002" y="71.80" font-size="11" text-anchor="end" fill="#373d3f" font-family="Liberation Sans">200</text><text x="34.60000000000002" y="122.05" font-size="11" text-anchor="end" fill="#373d3f" font-family="Liberation Sans">100</text><text x="34.60000000000002" y="172.30" font-size="11" text-anchor="end" fill="#373d3f" font-family="Liberation Sans">0</text><text x="34.60000000000002" y="222.55" font-size="11" text-anchor="end" fill="#373d3f" font-family="Liberation Sans">-100</text><text x="34.60000000000002" y="272.80" font-size="11" text-anchor="end" fill="#373d3f" font-family="Liberation Sans">-200</text></svg>
<!--/CH-->
</div>
<div id="sbar" class="abs" style="left:1898px;top:0;width:6px;height:957px;background:#e8eaee"></div>
<div class="abs" style="left:1898px;top:0;width:5px;height:693px;background:#fe9f43;border-radius:0 4px 0 0"></div>
<div class="abs" style="left:1904px;top:0;width:2px;height:957px;background:#f5f7fb"></div>
</body>
</html>
